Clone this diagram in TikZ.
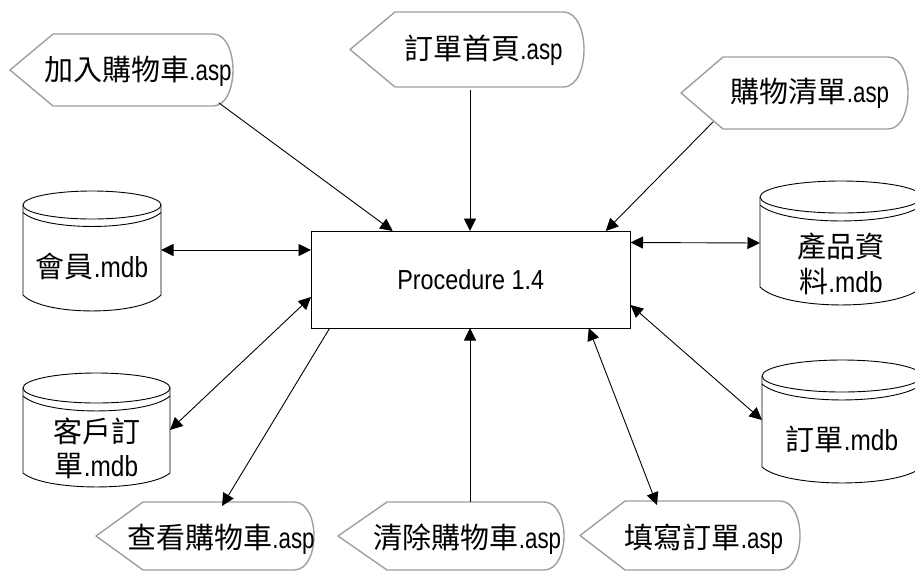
\documentclass[tikz,border=0pt]{standalone}
\usepackage{fontspec}
\setmainfont[FakeStretch=0.85]{Liberation Sans}
\newfontfamily\asplat[FakeStretch=0.77]{Liberation Sans}
\newfontfamily\mdblat[FakeStretch=0.84]{Liberation Sans}
\newfontfamily\cjk{Noto Sans CJK TC}
\usetikzlibrary{arrows.meta}
\newcommand{\zh}[1]{{\fontsize{29pt}{36pt}\selectfont\cjk #1}}
\newcommand{\la}[1]{{\fontsize{29pt}{36pt}\selectfont\asplat #1}}
\newcommand{\lm}[1]{{\fontsize{29pt}{36pt}\selectfont\mdblat #1}}
\newcommand{\low}[2]{\raisebox{-#1pt}[0pt][0pt]{\begin{tabular}{@{}c@{}}#2\end{tabular}}}
\newcommand{\dtext}[3]{\raisebox{-#1pt}[0pt][0pt]{\zh{#2}\la{#3}}}
% name, tip x, shoulder x, arc-start x, right x, top y, bottom y, text shift, text
\newcommand{\dispbox}[9]{%
  \pgfmathsetmacro{\ymid}{(#6+#7)/2}
  \pgfmathsetmacro{\rr}{(#7-#6)/2}
  \draw[displine] (#2,\ymid) -- (#3,#6) -- (#4,#6)
     .. controls ({#5-6},#6) and (#5,{#6+\rr*0.55}) .. (#5,\ymid)
     .. controls (#5,{#7-\rr*0.55}) and ({#5-6},#7) .. (#4,#7) -- (#3,#7) -- cycle;
  \pgfmathsetmacro{\cenx}{(#2+#5)/2}
  \pgfmathsetmacro{\boxw}{#5-#2}
  \pgfmathsetmacro{\boxh}{#6-#7}
  \node[shapebox,minimum width=\boxw pt,minimum height=\boxh pt] (#1) at (\cenx,\ymid) {\hspace*{#8pt}#9};
}
% name, left x, right x, top y, side top y, gap, side bottom y, bottom y, text
\newcommand{\drum}[9]{%
  \pgfmathsetmacro{\cenx}{(#2+#3)/2}
  \pgfmathsetmacro{\radx}{(#3-#2)/2}
  \pgfmathsetmacro{\rady}{#4-#5}
  \pgfmathsetmacro{\radb}{#7-#8}
  \draw[drumline] (\cenx,#5) ellipse [x radius=\radx, y radius=\rady];
  \draw[drumline] (#2,#5) -- (#2,#7) .. controls ({#2+\radx*0.3},{#7-\radb*1.33}) and ({#3-\radx*0.3},{#7-\radb*1.33}) .. (#3,#7) -- (#3,#5);
  \draw[drumline] (#2,{#5-#6}) .. controls ({#2+\radx*0.3},{#5-#6-\rady*1.33}) and ({#3-\radx*0.3},{#5-#6-\rady*1.33}) .. (#3,{#5-#6});
  \pgfmathsetmacro{\boxw}{#3-#2}
  \pgfmathsetmacro{\boxh}{#4-#8}
  \node[shapebox,minimum width=\boxw pt,minimum height=\boxh pt] (#1) at (\cenx,{(#4+#8)/2}) {#9};
}
\tikzset{
  x=1pt,y=1pt,
  displine/.style={draw=black!38,line width=1.4pt,line join=round},
  drumline/.style={draw=black,line width=0.9pt},
  shapebox/.style={rectangle,inner sep=0pt,outer sep=0pt},
  link/.style={draw=black,line width=0.9pt,>={Triangle[length=12.5pt,width=12pt]}},
}
\begin{document}
\begin{tikzpicture}
\useasboundingbox (0,-571) rectangle (915,0);
\node[draw=black,line width=0.9pt,shapebox,minimum width=319.5pt,minimum height=97pt] (main) at (470.75,-279.5)
  {\fontsize{27.5pt}{32pt}\selectfont Procedure 1.4};

\dispbox{add}{10}{53}{213}{233}{-34}{-106}{33}{\dtext{10}{加入購物車}{.asp}}
\dispbox{home}{350}{395}{563}{584}{-12}{-87}{33}{\dtext{10}{訂單首頁}{.asp}}
\dispbox{list}{681}{723}{888}{908}{-57}{-129}{31}{\dtext{9}{購物清單}{.asp}}
\dispbox{view}{96}{143}{294}{314}{-502}{-570}{32}{\dtext{12}{查看購物車}{.asp}}
\dispbox{clear}{338}{387}{544}{564}{-502}{-570}{33}{\dtext{12}{清除購物車}{.asp}}
\dispbox{fill}{580}{625}{780}{800}{-501}{-570}{28}{\dtext{12.5}{填寫訂單}{.asp}}

\drum{member}{23}{161}{-191}{-205}{7.5}{-295}{-311}{\low{19}{\zh{會員}\lm{.mdb}}}
\drum{product}{760}{922}{-181}{-197}{8}{-287}{-305}{\low{24}{\zh{產品資}\\[8pt]\zh{料}\lm{.mdb}}}
\drum{order}{762}{922}{-360}{-376}{8}{-467}{-483}{\low{21}{\zh{訂單}\lm{.mdb}}}
\drum{custorder}{23}{170}{-373}{-388}{8}{-473}{-487}{\low{21.5}{\zh{客戶訂}\\[7pt]\zh{單}\lm{.mdb}}}

\draw[link,->] ([shift={(97.5,3)}]add.south) -- ([xshift=-78pt]main.north);
\draw[link,->] ([shift={(3,-3)}]home.south) -- ([xshift=-0.75pt]main.north);
\draw[link,->] ([shift={(-81.5,7)}]list.south) -- ([xshift=135pt]main.north);
\draw[link,<->] ([yshift=1pt]member.east) -- ([yshift=29.5pt]main.west);
\draw[link,<->] (product.west) -- ([yshift=37pt]main.east);
\draw[link,<->] (custorder.east) -- ([yshift=-17.5pt]main.west);
\draw[link,->] ([xshift=-141pt]main.south) -- ([shift={(17,-4)}]view.north);
\draw[link,->] ([xshift=19pt]clear.north) -- ([xshift=-0.75pt]main.south);
\draw[link,<->] ([xshift=118pt]main.south) -- ([shift={(-33,-4)}]fill.north);
\draw[link,<->] ([yshift=-25.5pt]main.east) -- ([yshift=1.5pt]order.west);
\end{tikzpicture}
\end{document}
